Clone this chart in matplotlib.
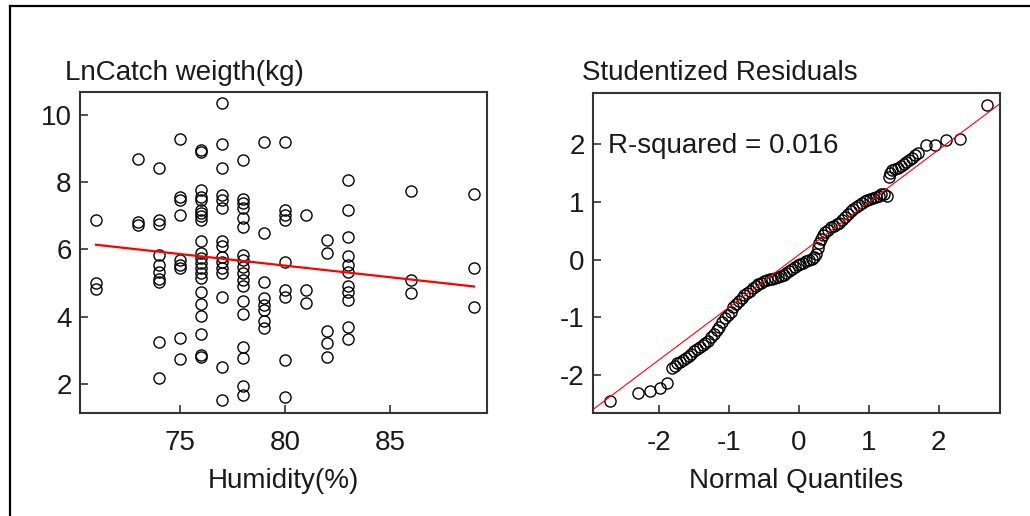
import matplotlib
matplotlib.use("Agg")
import matplotlib.pyplot as plt
from matplotlib.lines import Line2D

plt.rcParams['font.family'] = ['Liberation Sans', 'DejaVu Sans']
plt.rcParams['axes.unicode_minus'] = False

# ---- Left panel: ln catch weight vs humidity ----
humidity = (
    [71] * 3 + [73] * 3 + [74] * 10 + [75] * 9 + [76] * 22 + [77] * 15 +
    [78] * 18 + [79] * 8 + [80] * 9 + [81] * 3 + [82] * 5 + [83] * 11 +
    [86] * 3 + [89] * 3
)
ln_catch = [
    6.88, 5.01, 4.82,
    8.70, 6.83, 6.73,
    8.42, 6.88, 6.76, 5.84, 5.54, 5.34, 5.12, 5.04, 3.26, 2.17,
    9.29, 7.57, 7.48, 7.01, 5.69, 5.54, 5.44, 3.38, 2.74,
    8.96, 8.91, 7.77, 7.57, 7.48, 7.18, 7.09, 6.98, 6.88, 6.24, 5.89,
    5.74, 5.59, 5.44, 5.29, 5.15, 4.75, 4.37, 4.02, 3.49, 2.86, 2.81,
    10.35, 9.14, 8.42, 7.62, 7.48, 7.23, 6.25, 6.10, 5.79, 5.64, 5.44,
    5.29, 4.58, 2.50, 1.52,
    8.65, 7.50, 7.38, 7.23, 6.93, 6.68, 5.84, 5.69, 5.49, 5.29, 5.10,
    4.90, 4.47, 4.08, 3.09, 2.76, 1.95, 1.67,
    9.19, 6.50, 5.02, 4.55, 4.35, 4.20, 3.86, 3.66,
    9.19, 7.18, 7.03, 6.88, 5.64, 4.80, 4.60, 2.72, 1.63,
    7.03, 4.80, 4.42,
    6.28, 5.90, 3.59, 3.21, 2.81,
    8.05, 7.16, 6.38, 5.82, 5.54, 5.34, 4.92, 4.75, 4.50, 3.70, 3.33,
    7.75, 5.10, 4.70,
    7.65, 5.46, 4.30,
]
fit_x = [71, 89]
fit_y = [6.14, 4.90]
left_xticks = [75, 80, 85]
left_yticks = [2, 4, 6, 8, 10]

# ---- Right panel: normal probability plot of studentized residuals ----
normal_q = [
    -2.70, -2.31, -2.14, -1.99, -1.89,
    -1.82, -1.78, -1.74, -1.70, -1.66, -1.62, -1.58, -1.54, -1.50, -1.46,
    -1.42, -1.38, -1.34, -1.30, -1.26, -1.22, -1.18, -1.14, -1.10, -1.06,
    -1.02, -0.98, -0.94, -0.90, -0.86, -0.82, -0.78, -0.74, -0.70, -0.66,
    -0.62, -0.58, -0.54, -0.50, -0.46, -0.42, -0.38, -0.34, -0.30, -0.26,
    -0.22, -0.18, -0.14, -0.10, -0.06, -0.02, 0.02, 0.06, 0.10, 0.14,
    0.18, 0.22, 0.25, 0.27, 0.29, 0.31, 0.34, 0.38, 0.42, 0.46, 0.50,
    0.54, 0.58, 0.62, 0.66, 0.70, 0.74, 0.78, 0.82, 0.86, 0.90, 0.94,
    0.98, 1.02, 1.06, 1.10, 1.14, 1.18, 1.22, 1.26,
    1.29, 1.31, 1.34, 1.38, 1.42, 1.46, 1.50, 1.54, 1.58, 1.62, 1.66,
    1.71, 1.82, 1.95, 2.11, 2.30, 2.69,
]
stud_resid = [
    -2.46, -2.31, -2.28, -2.23, -2.14,
    -1.88, -1.84, -1.80, -1.77, -1.74, -1.70, -1.67, -1.63, -1.59, -1.55,
    -1.52, -1.48, -1.45, -1.41, -1.35, -1.29, -1.22, -1.16, -1.09, -1.02,
    -0.96, -0.90, -0.83, -0.77, -0.71, -0.66, -0.62, -0.58, -0.54, -0.50,
    -0.46, -0.43, -0.40, -0.37, -0.35, -0.34, -0.33, -0.32, -0.30, -0.29,
    -0.27, -0.24, -0.20, -0.16, -0.12, -0.09, -0.07, -0.05, -0.03, -0.01,
    0.01, 0.04, 0.10, 0.20, 0.29, 0.36, 0.43, 0.48, 0.52, 0.56, 0.59,
    0.61, 0.64, 0.69, 0.74, 0.79, 0.84, 0.88, 0.92, 0.95, 0.98, 1.01,
    1.03, 1.05, 1.07, 1.09, 1.11, 1.13, 1.13, 1.11,
    1.44, 1.50, 1.55, 1.57, 1.59, 1.62, 1.65, 1.69, 1.73, 1.77, 1.81,
    1.85, 1.98, 1.99, 2.07, 2.09, 2.69,
]
ref_intercept = 0.085
ref_slope = 0.91
r_squared = 0.016
right_ticks = [-2, -1, 0, 1, 2]

W, H = 1030, 516
fig = plt.figure(figsize=(W / 100, H / 100), dpi=100)
fig.patch.set_facecolor('white')

FS = 20
TXT = '#1a1a1a'
SPINE = '#333333'


def px_rect(x0, y0, x1, y1):
    return [x0 / W, 1 - y1 / H, (x1 - x0) / W, (y1 - y0) / H]


def style_axes(ax):
    for s in ax.spines.values():
        s.set_color(SPINE)
        s.set_linewidth(1.5)
    ax.tick_params(direction='in', length=5.5, width=1.2, color=SPINE,
                   labelsize=FS, labelcolor=TXT)
    ax.tick_params(axis='x', pad=12)
    ax.tick_params(axis='y', pad=6)


marker_kw = dict(marker='o', linestyle='none', markersize=8,
                 markerfacecolor='none', markeredgecolor='black',
                 markeredgewidth=1.0)

ax1 = fig.add_axes(px_rect(80, 92, 487, 413))
ax1.plot(humidity, ln_catch, **marker_kw)
ax1.plot(fit_x, fit_y, color='red', linewidth=1.6)
ax1.set_xlim(70.24, 89.62)
ax1.set_ylim(1.14, 10.68)
ax1.set_xticks(left_xticks)
ax1.set_yticks(left_yticks)
style_axes(ax1)

ax2 = fig.add_axes(px_rect(593, 93, 1000, 413))
ax2.plot(normal_q, stud_resid, **marker_kw)
ax2.axline((0, ref_intercept), slope=ref_slope, color='red', linewidth=0.8)
ax2.set_xlim(-2.95, 2.88)
ax2.set_ylim(-2.66, 2.89)
ax2.set_xticks(right_ticks)
ax2.set_yticks(right_ticks)
style_axes(ax2)
ax2.text(-2.74, 1.97, f'R-squared = {r_squared:.3f}', fontsize=FS,
         color=TXT, ha='left', va='center')

# panel titles and axis labels
fig.text(65 / W, 1 - 80 / H, 'LnCatch weigth(kg)', fontsize=FS, color=TXT,
         ha='left', va='baseline')
fig.text(582 / W, 1 - 80 / H, 'Studentized Residuals', fontsize=FS,
         color=TXT, ha='left', va='baseline')
fig.text(283.5 / W, 1 - 488 / H, 'Humidity(%)', fontsize=FS, color=TXT,
         ha='center', va='baseline')
fig.text(796.5 / W, 1 - 488 / H, 'Normal Quantiles', fontsize=FS,
         color=TXT, ha='center', va='baseline')

# outer frame: top and left edges
fig.add_artist(Line2D([10 / W, 1.0], [1 - 6 / H, 1 - 6 / H],
                      color='black', linewidth=1.6,
                      transform=fig.transFigure))
fig.add_artist(Line2D([10 / W, 10 / W], [1 - 6 / H, 0.0],
                      color='black', linewidth=1.6,
                      transform=fig.transFigure))

fig.savefig('out.png', dpi=100)
